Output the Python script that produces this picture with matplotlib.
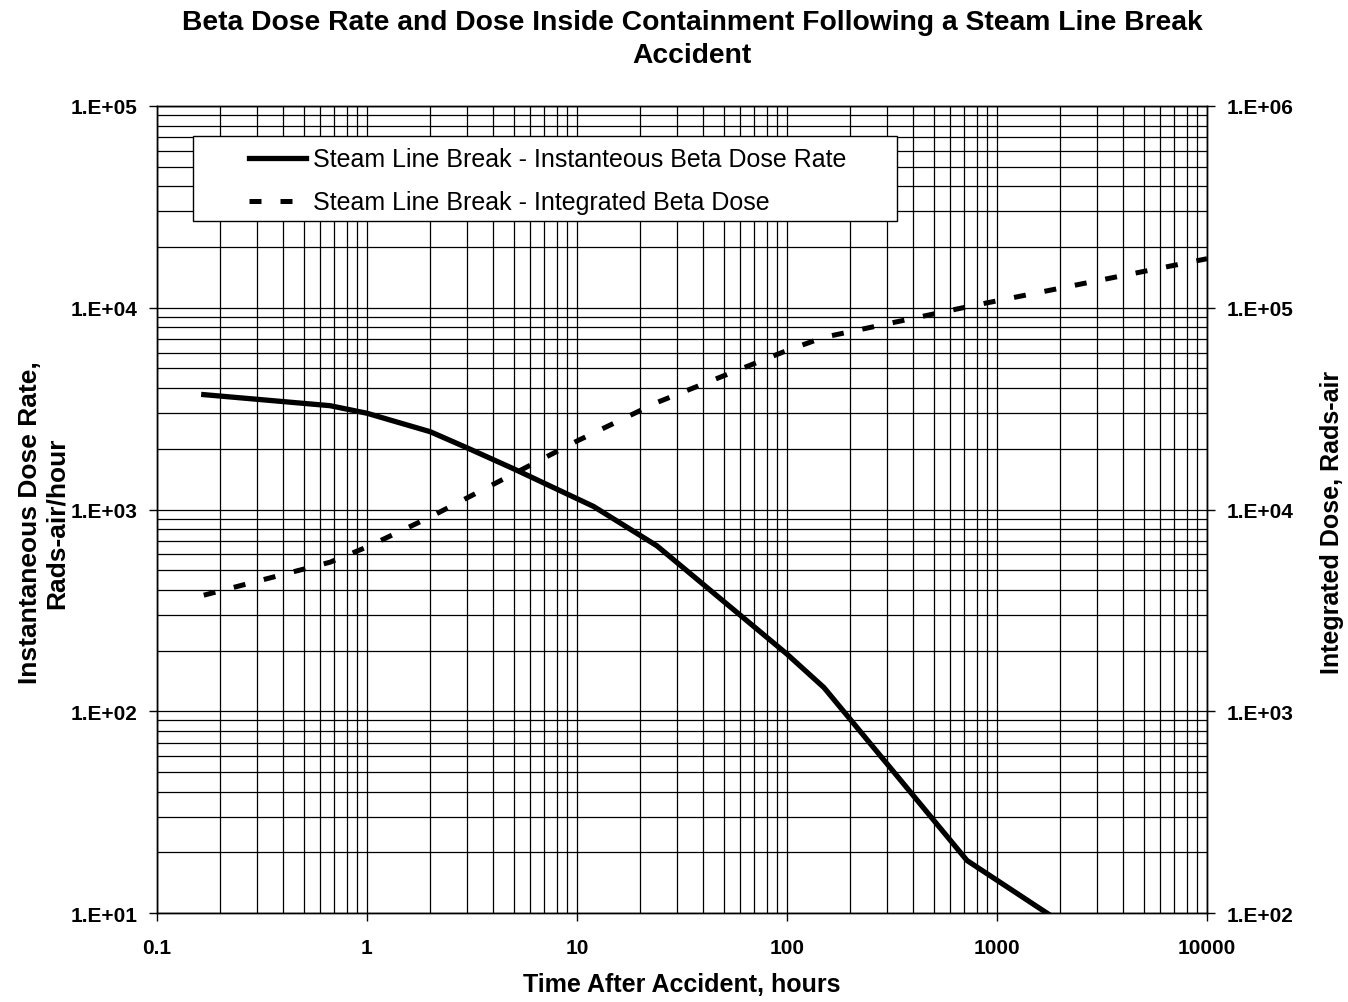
import math
import matplotlib
matplotlib.use("Agg")
import matplotlib.pyplot as plt
from matplotlib.patches import Rectangle
from matplotlib.ticker import LogLocator, FuncFormatter, NullFormatter

plt.rcParams['font.family'] = ['Liberation Sans', 'DejaVu Sans']

# ---- data ----
rate_time = [0.167, 0.667, 1.0, 1.33, 2, 3, 5, 12, 24, 100, 150, 720, 10000]
rate_vals = [3710, 3270, 3000, 2750, 2430, 2020, 1590, 1035, 661, 192, 131, 18.2, 3.0]

dose_time = [0.167, 0.667, 1, 2, 10, 24, 100, 150, 720, 10000]
dose_vals = [3760, 5480, 6520, 9180, 21850, 33900, 61400, 71400, 101000, 175000]

x_ticks = [0.1, 1, 10, 100, 1000, 10000]
x_tick_labels = ["0.1", "1", "10", "100", "1000", "10000"]

title = "Beta Dose Rate and Dose Inside Containment Following a Steam Line Break\nAccident"
xlabel = "Time After Accident, hours"
ylabel_left = "Instantaneous Dose Rate,\nRads-air/hour"
ylabel_right = "Integrated Dose, Rads-air"
label_rate = "Steam Line Break - Instanteous Beta Dose Rate"
label_dose = "Steam Line Break - Integrated Beta Dose"

# ---- figure ----
W, H = 1348, 1003
AX_L, AX_R, AX_T, AX_B = 157, 1207, 107, 914
AW, AH = AX_R - AX_L, AX_B - AX_T
fig = plt.figure(figsize=(W / 100, H / 100), dpi=100)
ax = fig.add_axes([AX_L / W, 1 - AX_B / H, AW / W, AH / H])

ax.set_xscale('log')
ax.set_yscale('log')
ax.set_xlim(0.1, 10000)
ax.set_ylim(10, 1e5)

ax.grid(True, which='both', color='black', linewidth=0.9)
ax.set_axisbelow(True)

l1, = ax.plot(rate_time, rate_vals, color='black', linewidth=3.8,
              solid_joinstyle='round', label=label_rate, zorder=3)

ax2 = ax.twinx()
ax2.set_yscale('log')
ax2.set_ylim(100, 1e6)
l2, = ax2.plot(dose_time, dose_vals, color='black', linewidth=3.6,
               dashes=(2.4, 3.8), dash_capstyle='butt', label=label_dose, zorder=3)


def efmt(v, pos):
    e = int(round(math.log10(v)))
    return "1.E%+03d" % e


for a in (ax, ax2):
    a.yaxis.set_major_locator(LogLocator(base=10, numticks=10))
    a.yaxis.set_major_formatter(FuncFormatter(efmt))
    a.yaxis.set_minor_locator(LogLocator(base=10, subs=range(2, 10), numticks=20))
    a.yaxis.set_minor_formatter(NullFormatter())
    a.tick_params(which='minor', length=0)
    for s in a.spines.values():
        s.set_linewidth(1.0)
        s.set_color('black')

ax.set_xticks(x_ticks)
ax.set_xticklabels(x_tick_labels)
ax.xaxis.set_minor_locator(LogLocator(base=10, subs=range(2, 10), numticks=20))
ax.xaxis.set_minor_formatter(NullFormatter())

ax.tick_params(axis='both', which='major', direction='out', length=6, width=1,
               labelsize=15, pad=8)
ax.tick_params(axis='x', which='major', pad=12)
ax2.tick_params(axis='y', which='major', direction='out', length=6, width=1,
                labelsize=15, pad=8)
for lab in ax.get_xticklabels() + ax.get_yticklabels() + ax2.get_yticklabels():
    lab.set_fontweight('bold')

fig.text(692 / W, 1 - 39.5 / H, title, ha='center', va='center',
         fontsize=20.3, fontweight='bold', linespacing=1.33)
fig.text(682 / W, 1 - 985 / H, xlabel, ha='center', va='center',
         fontsize=18, fontweight='bold')
fig.text(43 / W, 1 - 523 / H, ylabel_left, ha='center', va='center',
         rotation=90, fontsize=19, fontweight='bold', linespacing=1.15)
fig.text(1332 / W, 1 - 522 / H, ylabel_right, ha='center', va='center',
         rotation=90, fontsize=18, fontweight='bold')

# legend box drawn as a rectangle, contents as a frameless legend
box = Rectangle(((193 - AX_L) / AW, (AX_B - 222) / AH),
                (897 - 193) / AW, (222 - 137) / AH,
                transform=ax2.transAxes, facecolor='white', edgecolor='black',
                linewidth=1.0, zorder=9, clip_on=False)
ax2.add_patch(box)

leg = ax2.legend(handles=[l1, l2], loc='center left',
                 bbox_to_anchor=((249 - AX_L) / AW, (AX_B - 182) / AH),
                 fontsize=18, frameon=False, handlelength=2.28,
                 handletextpad=0.28, labelspacing=0.76, borderpad=0,
                 borderaxespad=0)
leg.set_zorder(10)

fig.savefig("out.png", dpi=100)
